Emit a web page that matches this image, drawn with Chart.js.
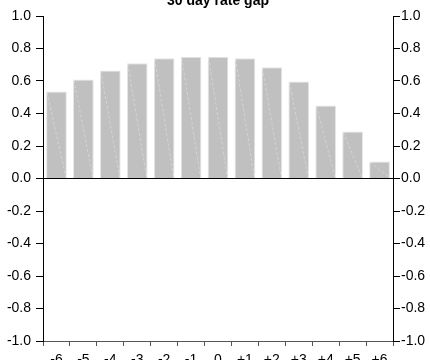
<!DOCTYPE html>
<html>
<head>
<meta charset="utf-8">
<script src="https://cdn.jsdelivr.net/npm/chart.js@4/dist/chart.umd.min.js"></script>
<style>
html,body{margin:0;padding:0;background:#fff;}
#wrap{width:430px;height:360px;position:relative;}
</style>
</head>
<body>
<div id="wrap"><canvas id="c" width="430" height="360"></canvas></div>
<script>
const titleText = "30 day rate gap";
const categories = ["-6","-5","-4","-3","-2","-1","0","+1","+2","+3","+4","+5","+6"];
const gapValues = [0.535, 0.61, 0.665, 0.71, 0.74, 0.75, 0.75, 0.74, 0.685, 0.597, 0.45, 0.29, 0.105];
const yTicks = [-1.0, -0.8, -0.6, -0.4, -0.2, 0.0, 0.2, 0.4, 0.6, 0.8, 1.0];

const FONT = "'Liberation Sans', Arial, sans-serif";

const titlePlugin = {
  id: 'clippedTitle',
  afterDraw(chart) {
    const ctx = chart.ctx, a = chart.chartArea;
    ctx.save();
    ctx.font = "bold 14px " + FONT;
    ctx.fillStyle = '#000';
    ctx.textAlign = 'center';
    ctx.textBaseline = 'alphabetic';
    ctx.fillText(titleText, (a.left + a.right) / 2, 5);
    ctx.restore();
  }
};

const diagPlugin = {
  id: 'barDiag',
  afterDatasetsDraw(chart) {
    const ctx = chart.ctx;
    const meta = chart.getDatasetMeta(0);
    ctx.save();
    ctx.strokeStyle = 'rgba(255,255,255,0.3)';
    ctx.lineWidth = 1;
    ctx.setLineDash([3, 2]);
    meta.data.forEach(el => {
      const p = el.getProps(['x','y','base','width'], true);
      ctx.beginPath();
      ctx.moveTo(p.x - p.width / 2 + 1, p.y + 1);
      ctx.lineTo(p.x + p.width / 2 - 1, p.base - 1);
      ctx.stroke();
    });
    ctx.restore();
  }
};

new Chart(document.getElementById('c'), {
  type: 'bar',
  data: {
    labels: categories,
    datasets: [{
      data: gapValues,
      backgroundColor: '#c0c0c0',
      borderColor: '#e6e6e6',
      borderWidth: 1,
      barPercentage: 0.77,
      categoryPercentage: 1.0
    }]
  },
  options: {
    responsive: false,
    animation: false,
    devicePixelRatio: 1,
    layout: { padding: { top: 16, left: 0, right: 0, bottom: 0 } },
    plugins: { legend: { display: false }, title: { display: false }, tooltip: { enabled: false } },
    scales: {
      x: {
        offset: true,
        grid: { offset: true, drawOnChartArea: false, tickLength: 5, tickColor: '#555', tickWidth: 1 },
        border: { color: '#555', width: 1 },
        ticks: { color: '#000', font: { family: FONT, size: 14 }, padding: 6, maxRotation: 0, autoSkip: false },
        afterFit(s) { s.height = 19; }
      },
      y: {
        position: 'left',
        min: -1, max: 1,
        afterBuildTicks(s) { s.ticks = yTicks.map(v => ({ value: v })); },
        grid: {
          drawOnChartArea: true,
          color: ctx => (ctx.tick && Math.abs(ctx.tick.value) < 1e-9) ? '#000' : 'rgba(0,0,0,0)',
          tickColor: '#000', tickLength: 7, lineWidth: 1
        },
        border: { color: '#000', width: 1 },
        ticks: { color: '#000', font: { family: FONT, size: 14 }, padding: 5,
                 callback: v => Number(v).toFixed(1) },
        afterFit(s) { s.width = 43; }
      },
      y2: {
        position: 'right',
        min: -1, max: 1,
        afterBuildTicks(s) { s.ticks = yTicks.map(v => ({ value: v })); },
        grid: { drawOnChartArea: false, tickColor: '#000', tickLength: 7 },
        border: { color: '#000', width: 1 },
        ticks: { color: '#000', font: { family: FONT, size: 14 }, padding: 1,
                 callback: v => Number(v).toFixed(1) },
        afterFit(s) { s.width = 37; }
      }
    }
  },
  plugins: [titlePlugin, diagPlugin]
});
</script>
</body>
</html>
